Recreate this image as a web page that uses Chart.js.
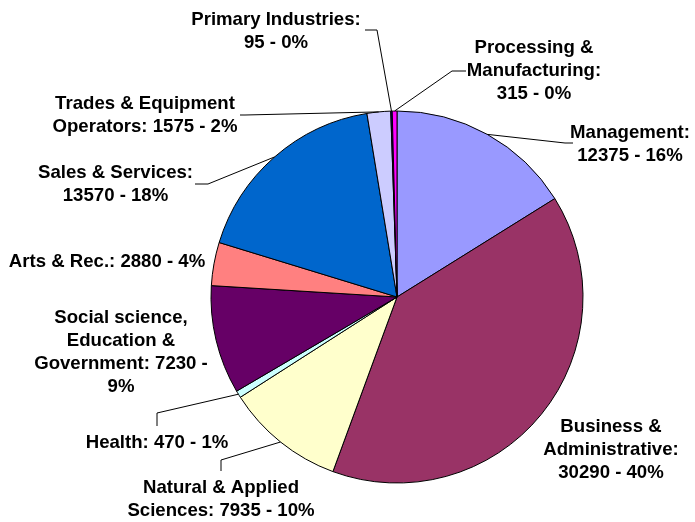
<!DOCTYPE html>
<html>
<head>
<meta charset="utf-8">
<script src="https://cdn.jsdelivr.net/npm/chart.js@4/dist/chart.umd.min.js"></script>
<style>
html,body{margin:0;padding:0;background:#fff;}
#wrap{width:695px;height:522px;position:relative;}
</style>
</head>
<body>
<div id="wrap"><canvas id="c" width="695" height="522"></canvas></div>
<script>
// ---- data ----
const categories = [
  "Management",
  "Business & Administrative",
  "Natural & Applied Sciences",
  "Health",
  "Social science, Education & Government",
  "Arts & Rec.",
  "Sales & Services",
  "Trades & Equipment Operators",
  "Primary Industries",
  "Processing & Manufacturing"
];
const values = [12375, 30290, 7935, 470, 7230, 2880, 13570, 1575, 95, 315];
const colors = ["#9999FF", "#993366", "#FFFFCC", "#CCFFFF", "#660066", "#FF8080", "#0066CC", "#CCCCFF", "#000080", "#FF00FF"];

// label layout (offsets from pie centre, px): text centre of first line, wrap width, optional leader elbow/tail
const labelLayout = [
  {dx: 233, dy: -164, w: 140, elbow: [168, -154], tail: [176, -154]},
  {dx: 214, dy: 130, w: 160},
  {dx: -176, dy: 191, w: 200, elbow: [-176, 163], tail: [-176, 174]},
  {dx: -240, dy: 146, w: 200, elbow: [-240, 116], tail: [-240, 129]},
  {dx: -276, dy: 21, w: 185},
  {dx: -290, dy: -35, w: 220},
  {dx: -281.5, dy: -124, w: 180, elbow: [-189, -113], tail: [-202, -113]},
  {dx: -252, dy: -193, w: 200, elbow: [-152, -182], tail: [-157, -182]},
  {dx: -121, dy: -277, w: 175, elbow: [-20, -267], tail: [-32, -267]},
  {dx: 137, dy: -249, w: 150, elbow: [55, -226], tail: [69, -226]}
];

// percentages rounded to sum to 100 (largest remainder)
function percents(vals) {
  const total = vals.reduce((a, b) => a + b, 0);
  const raw = vals.map(v => v / total * 100);
  const fl = raw.map(Math.floor);
  let left = 100 - fl.reduce((a, b) => a + b, 0);
  const order = raw.map((r, i) => [r - Math.floor(r), i]).sort((a, b) => b[0] - a[0]);
  for (let k = 0; k < left; k++) fl[order[k][1]]++;
  return fl;
}
const pcts = percents(values);

function wrap(ctx, text, maxW) {
  const words = text.split(' ');
  const lines = [];
  let cur = '';
  for (const w of words) {
    const t = cur ? cur + ' ' + w : w;
    if (cur && ctx.measureText(t).width > maxW) { lines.push(cur); cur = w; }
    else cur = t;
  }
  if (cur) lines.push(cur);
  return lines;
}

const labelPlugin = {
  id: 'pieLabels',
  afterDatasetsDraw(chart) {
    const ctx = chart.ctx;
    const meta = chart.getDatasetMeta(0);
    ctx.save();
    ctx.font = 'bold 18.6px "Liberation Sans", Arial, sans-serif';
    ctx.textAlign = 'center';
    ctx.textBaseline = 'middle';
    ctx.fillStyle = '#000';
    ctx.strokeStyle = '#000';
    ctx.lineWidth = 1;
    meta.data.forEach((arc, i) => {
      const p = arc.getProps(['x', 'y', 'startAngle', 'endAngle', 'outerRadius'], true);
      const cx = p.x, cy = p.y;
      const lay = labelLayout[i];
      if (lay.elbow) {
        const mid = (p.startAngle + p.endAngle) / 2;
        const sx = cx + Math.cos(mid) * p.outerRadius;
        const sy = cy + Math.sin(mid) * p.outerRadius;
        ctx.beginPath();
        ctx.moveTo(sx, sy);
        ctx.lineTo(cx + lay.elbow[0], cy + lay.elbow[1]);
        ctx.lineTo(cx + lay.tail[0], cy + lay.tail[1]);
        ctx.stroke();
      }
      const text = categories[i] + ': ' + values[i] + ' - ' + pcts[i] + '%';
      const lines = wrap(ctx, text, lay.w);
      lines.forEach((ln, k) => {
        ctx.fillText(ln, cx + lay.dx, cy + lay.dy + k * 23);
      });
    });
    ctx.restore();
  }
};

new Chart(document.getElementById('c'), {
  type: 'pie',
  data: {
    labels: categories,
    datasets: [{
      data: values,
      backgroundColor: colors,
      borderColor: '#000',
      borderWidth: 1
    }]
  },
  options: {
    responsive: false,
    animation: false,
    radius: 186,
    layout: {padding: {left: 110, right: 11, top: 100, bottom: 28}},
    plugins: {legend: {display: false}, tooltip: {enabled: false}}
  },
  plugins: [labelPlugin]
});
</script>
</body>
</html>
